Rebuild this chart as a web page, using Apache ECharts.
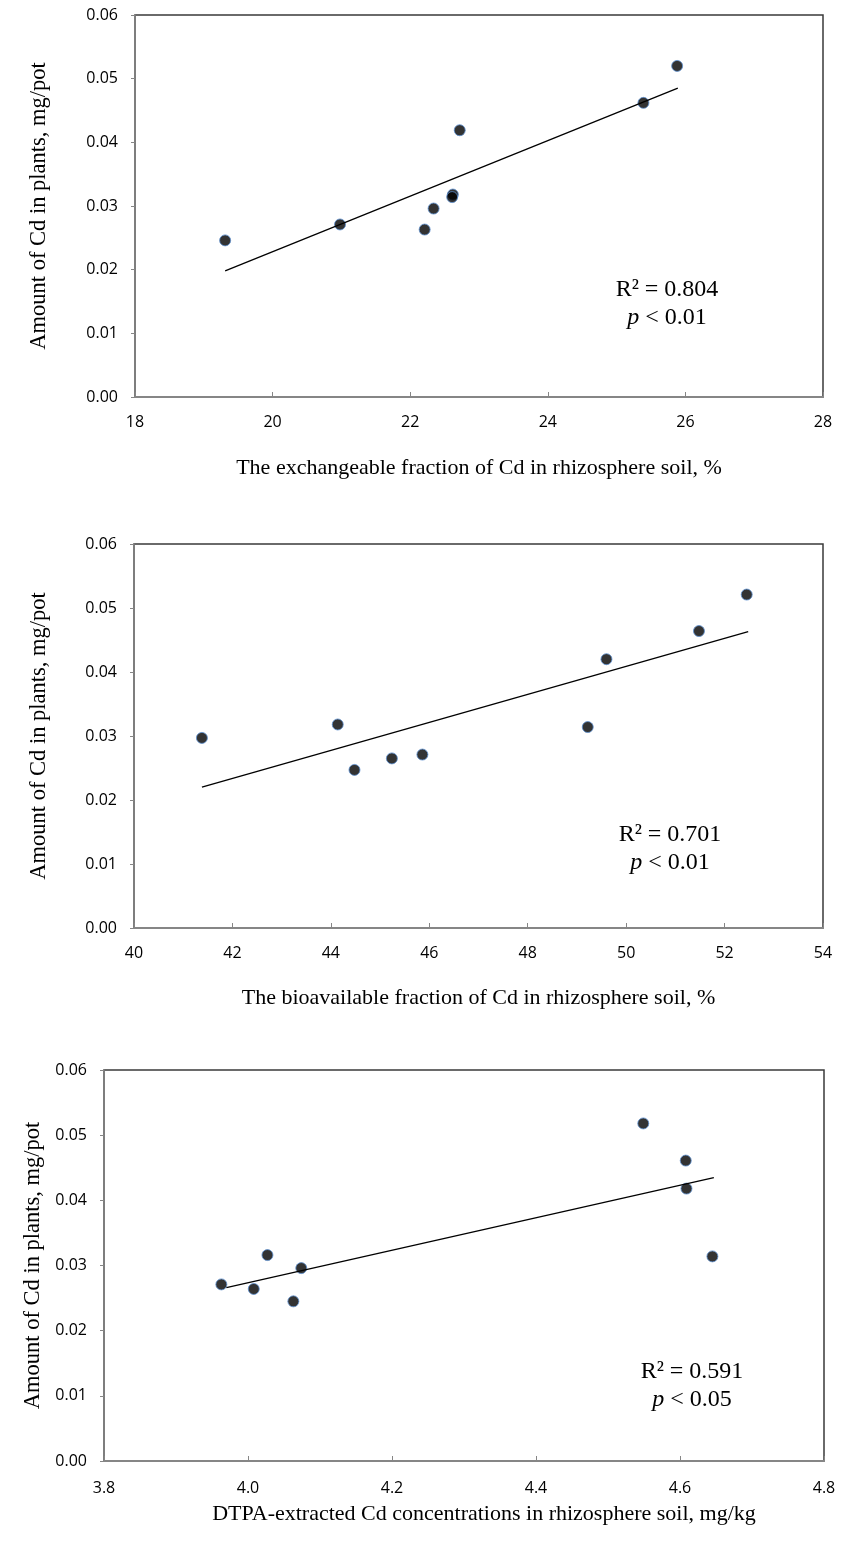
<!DOCTYPE html>
<html>
<head>
<meta charset="utf-8">
<script src="https://cdn.jsdelivr.net/npm/echarts@6/dist/echarts.min.js"></script>
<style>
html,body{margin:0;padding:0;background:#fff;}
#c{width:850px;height:1545px;}
</style>
</head>
<body>
<div id="c"></div>
<script>
// ---- data ----
const yTicks = ['0.00','0.01','0.02','0.03','0.04','0.05','0.06'];

const x1 = [19.31, 20.98, 22.21, 22.34, 22.62, 22.61, 22.72, 25.39, 25.88];
const y1 = [0.0246, 0.0271, 0.0263, 0.0296, 0.0318, 0.0314, 0.0419, 0.0462, 0.0520];
const fit1X = [19.31, 25.89];
const fit1Y = [0.0198, 0.0485];

const x2 = [41.38, 44.14, 44.48, 45.24, 45.86, 49.22, 49.60, 51.48, 52.45];
const y2 = [0.0297, 0.0318, 0.0247, 0.0265, 0.0271, 0.0314, 0.0420, 0.0464, 0.0521];
const fit2X = [41.38, 52.48];
const fit2Y = [0.0220, 0.0463];

const x3 = [3.963, 4.008, 4.027, 4.063, 4.074, 4.549, 4.608, 4.609, 4.645];
const y3 = [0.0271, 0.0264, 0.0316, 0.0245, 0.0296, 0.0518, 0.0461, 0.0418, 0.0314];
const fit3X = [3.970, 4.647];
const fit3Y = [0.0266, 0.0435];

const xTitles = [
  'The exchangeable fraction of Cd in rhizosphere soil, %',
  'The bioavailable fraction of Cd in rhizosphere soil, %',
  'DTPA-extracted Cd concentrations in rhizosphere soil, mg/kg'
];
const yTitle = 'Amount of Cd in plants, mg/pot';
const r2Text = ['0.804', '0.701', '0.591'];
const pText = ['0.01', '0.01', '0.05'];

// ---- build ----
const pairs = (xs, ys) => xs.map((x, i) => [x, ys[i]]);
const labelFont = "'Open Sans', 'Noto Sans', sans-serif";
const serif = "'Liberation Serif', 'DejaVu Serif', serif";

const grids = [
  {left: 135, top: 15, width: 688, height: 382},
  {left: 134, top: 544, width: 689, height: 384},
  {left: 104, top: 1070, width: 720, height: 391}
];
const xCfg = [
  {min: 18, max: 28, interval: 2, dec: 0, gap: 60, pad: [0,0,0,0], lm: 17},
  {min: 40, max: 54, interval: 2, dec: 0, gap: 59, pad: [0,0,0,0], lm: 17},
  {min: 3.8, max: 4.8, interval: 0.2, dec: 1, gap: 42, pad: [0,0,0,40], lm: 19}
];
const yGap = [84, 83, 53];

const option = {
  animation: false,
  backgroundColor: '#fff',
  grid: grids.map(g => Object.assign({show: true, borderColor: '#3a3a3a', borderWidth: 1.5, backgroundColor: 'transparent'}, g)),
  xAxis: xCfg.map((c, i) => ({
    type: 'value', gridIndex: i, min: c.min, max: c.max, interval: c.interval,
    name: xTitles[i], nameLocation: 'middle', nameGap: c.gap,
    nameTextStyle: {fontFamily: serif, fontSize: 22, color: '#000', padding: c.pad},
    axisLine: {show: true, onZero: false, lineStyle: {color: '#868686', width: 2}},
    axisTick: {show: true, inside: true, length: 5, lineStyle: {color: '#868686', width: 1}},
    axisLabel: {fontFamily: labelFont, fontSize: 16, color: '#000', margin: c.lm,
      formatter: v => v.toFixed(c.dec)},
    splitLine: {show: false}
  })),
  yAxis: [0,1,2].map(i => ({
    type: 'value', gridIndex: i, min: 0, max: 0.06, interval: 0.01,
    name: yTitle, nameLocation: 'middle', nameGap: yGap[i],
    nameTextStyle: {fontFamily: serif, fontSize: 22.5, color: '#000'},
    axisLine: {show: true, onZero: false, lineStyle: {color: '#868686', width: 1.5}},
    axisTick: {show: true, inside: false, length: 4, lineStyle: {color: '#868686'}},
    axisLabel: {fontFamily: labelFont, fontSize: 16, color: '#000', margin: 17,
      formatter: v => yTicks[Math.round(v / 0.01)]},
    splitLine: {show: false}
  })),
  series: [
    {type: 'line', xAxisIndex: 0, yAxisIndex: 0, data: pairs(fit1X, fit1Y), showSymbol: false, symbol: 'none', lineStyle: {color: '#000', width: 1.3}},
    {type: 'line', xAxisIndex: 1, yAxisIndex: 1, data: pairs(fit2X, fit2Y), showSymbol: false, symbol: 'none', lineStyle: {color: '#000', width: 1.3}},
    {type: 'line', xAxisIndex: 2, yAxisIndex: 2, data: pairs(fit3X, fit3Y), showSymbol: false, symbol: 'none', lineStyle: {color: '#000', width: 1.3}},
    {type: 'scatter', xAxisIndex: 0, yAxisIndex: 0, data: pairs(x1, y1), symbolSize: 11, itemStyle: {color: '#000', borderColor: '#5b8fd0', borderWidth: 1}},
    {type: 'scatter', xAxisIndex: 1, yAxisIndex: 1, data: pairs(x2, y2), symbolSize: 11, itemStyle: {color: '#000', borderColor: '#5b8fd0', borderWidth: 1}},
    {type: 'scatter', xAxisIndex: 2, yAxisIndex: 2, data: pairs(x3, y3), symbolSize: 11, itemStyle: {color: '#000', borderColor: '#5b8fd0', borderWidth: 1}}
  ],
  graphic: []
};

const annPos = [
  {x: 667, r: 290, p: 318},
  {x: 670, r: 835, p: 863},
  {x: 692, r: 1372, p: 1400}
];
annPos.forEach((a, i) => {
  option.graphic.push({
    type: 'text', z: 10, x: a.x, y: a.r,
    style: {text: 'R² = ' + r2Text[i], font: '24px ' + serif, fill: '#000', textAlign: 'center', textVerticalAlign: 'middle'}
  });
  option.graphic.push({
    type: 'text', z: 10, x: a.x, y: a.p,
    style: {
      text: '{i|p} < ' + pText[i], textAlign: 'center', textVerticalAlign: 'middle',
      font: '24px ' + serif, fill: '#000',
      rich: {i: {fontFamily: serif, fontStyle: 'italic', fontSize: 24, fill: '#000'}}
    }
  });
});

const chart = echarts.init(document.getElementById('c'), null, {renderer: 'canvas'});
chart.setOption(option);
</script>
</body>
</html>
